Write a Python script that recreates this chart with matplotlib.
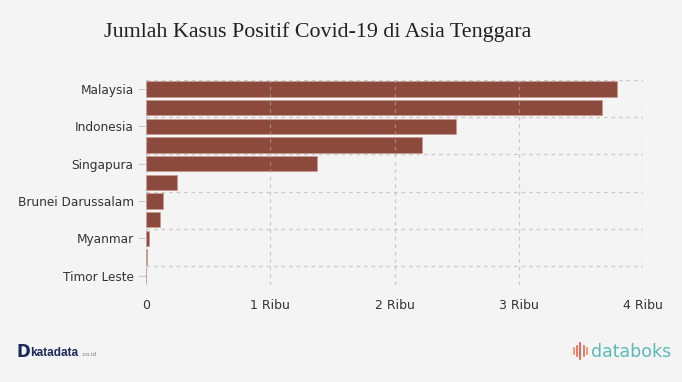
import numpy as np
import matplotlib.pyplot as plt

# data (kasus positif covid-19)
negara = ['Malaysia', 'Filipina', 'Indonesia', 'Thailand', 'Singapura', 'Vietnam',
          'Brunei Darussalam', 'Kamboja', 'Myanmar', 'Laos', 'Timor Leste']
kasus = [3793, 3667, 2491, 2220, 1375, 249, 135, 114, 22, 12, 1]
xticks = [0, 1000, 2000, 3000, 4000]
xlabels = ['0', '1 Ribu', '2 Ribu', '3 Ribu', '4 Ribu']

bg = '#f4f4f4'
W, H = 682, 382
fig = plt.figure(figsize=(W/100, H/100), dpi=100, facecolor=bg)
ax = fig.add_axes([146/W, 1 - 285/H, (643-146)/W, (285-79.7)/H], facecolor=bg)

y = np.arange(len(negara))
ax.barh(y, kasus, height=0.82, color='#8c4a3d', edgecolor='#c99a90', linewidth=0.6, zorder=2)

ax.set_xlim(0, 4000)
ax.set_ylim(len(negara) - 0.5, -0.5)

# grid (digambar di atas batang, tipis)
for xv in xticks:
    ax.axvline(xv, color='#b0b0b0', lw=0.9, ls=(0, (3, 3)), alpha=0.6, zorder=3)
for yv in np.arange(-0.5, len(negara), 2):
    ax.axhline(yv, color='#b0b0b0', lw=0.9, ls=(0, (3, 3)), alpha=0.6, zorder=3)

for s in ax.spines.values():
    s.set_visible(False)

ax.set_xticks(xticks)
ax.set_xticklabels(xlabels, fontsize=9, color='#333333', family='DejaVu Sans')
ax.tick_params(axis='x', length=0, pad=10)

ax.set_yticks(y[::2])
ax.set_yticklabels(negara[::2], fontsize=8.7, color='#333333', family='DejaVu Sans')
ax.tick_params(axis='y', length=6, color='#cccccc', pad=3)

# judul
fig.text(104/W, 1 - 32/H, 'Jumlah Kasus Positif Covid-19 di Asia Tenggara',
         fontsize=15.8, family='Liberation Serif', color='#222222', va='center', ha='left')

# footer
fig.text(17/W, 1 - 352/H, 'D', fontsize=12, fontweight='bold', color='#1b2a5c',
         va='center', ha='left', family='DejaVu Sans')
fig.text(30/W, 1 - 353/H, 'katadata', fontsize=8.5, fontweight='bold', color='#1b2a5c',
         va='center', ha='left', family='Liberation Sans')
fig.text(81/W, 1 - 355/H, '.co.id', fontsize=4.5, color='#777777',
         va='center', ha='left', family='Liberation Sans')

for i, (h, c) in enumerate(zip([6, 10, 16, 10, 6], ['#f08a5d', '#e5674a', '#d9534f', '#e5674a', '#f08a5d'])):
    xx = (574 + i * 3.2) / W
    fig.add_artist(plt.Line2D([xx, xx], [1 - (351 + h/2)/H, 1 - (351 - h/2)/H],
                              color=c, lw=1.2, transform=fig.transFigure))
fig.text(591/W, 1 - 352/H, 'databoks', fontsize=12.5, color='#5bbcb6',
         va='center', ha='left', family='DejaVu Sans')

fig.savefig('out.png', dpi=100, facecolor=bg)
